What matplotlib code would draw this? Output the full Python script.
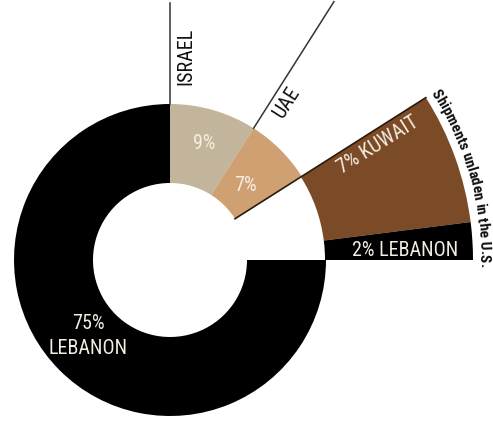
import numpy as np
import matplotlib

matplotlib.use("Agg")
import matplotlib.pyplot as plt  # noqa: E402
from matplotlib.font_manager import FontProperties  # noqa: E402

# shares of shipments, clockwise from 12 o'clock
names = ["Israel", "UAE", "Kuwait", "Lebanon (unladen)", "Lebanon"]
values = [9, 7, 7, 2, 75]
colors = ["#c3b49c", "#cfa072", "#7b4b27", "#000000", "#000000"]
unladen = [False, False, True, True, False]
note = "Shipments unladen in the U.S."

W, H = 493, 421
CX, CY = 170, 161          # centre, y measured from the bottom
R_IN, R_MID, R_OUT = 77, 156, 303

plt.rcParams["font.family"] = ["Roboto Condensed", "Open Sans Condensed",
                               "DejaVu Sans Condensed", "Roboto"]

fig = plt.figure(figsize=(W / 100, H / 100), dpi=100)
ax = fig.add_axes([0, 0, 1, 1])

# inner ring: the three destinations where goods were unloaded
inner_cols = [c if not u else "none" for c, u in zip(colors, unladen)]
ax.pie(values, colors=inner_cols, startangle=90, counterclock=False,
       radius=R_MID, center=(CX, CY),
       wedgeprops=dict(width=R_MID - R_IN, linewidth=0))
# outer ring: shipments unladen in the U.S.
outer_cols = [c if u else "none" for c, u in zip(colors, unladen)]
ax.pie(values, colors=outer_cols, startangle=90, counterclock=False,
       radius=R_OUT, center=(CX, CY),
       wedgeprops=dict(width=R_OUT - R_MID + 1, linewidth=0))

ax.set_xlim(0, W)
ax.set_ylim(0, H)
ax.set_aspect("equal")
ax.axis("off")

# boundary angles (degrees, counter-clockwise from east)
edges = 90 - 360 * np.cumsum([0] + values) / sum(values)


def polar(r, a):
    t = np.radians(a)
    return CX + r * np.cos(t), CY + r * np.sin(t)


# leader lines for ISRAEL / UAE and the UAE-Kuwait divider
x0, y0 = polar(R_MID, edges[0])
ax.plot([x0, x0], [y0, H - 3], color="#333333", lw=1.1)
x0, y0 = polar(R_MID, edges[1])
x1, y1 = polar(306, edges[1])
ax.plot([x0, x1], [y0, y1], color="#333333", lw=1.1)
x0, y0 = polar(R_IN, edges[2])
x1, y1 = polar(R_OUT, edges[2])
ax.plot([x0, x1], [y0, y1], color="#2a1a0c", lw=1.2)

txt = dict(color="#f4eee2", fontsize=14.5, ha="center", va="center")
mid = (edges[:-1] + edges[1:]) / 2

ax.text(*polar(121, mid[0]), f"{values[0]}%", **txt)
ax.text(*polar(106, mid[1]), f"{values[1]}%", **txt)
ax.text(*polar(238, 29), f"{values[2]}% KUWAIT", rotation=32, **txt)
ax.text(CX + 235, CY + 10, f"{values[3]}% LEBANON", **txt)
ax.text(CX - 82, CY - 76, f"{values[4]}%\nLEBANON", linespacing=1.4, **txt)

ax.text(186, H - 56, "ISRAEL", rotation=90, fontsize=14.5, color="#111111",
        ha="center", va="center")
ax.text(287, H - 102, "UAE", rotation=57.6, fontsize=14.5, color="#111111",
        ha="center", va="center")

# note set along the outer arc of the unladen wedges
prop = FontProperties(size=11, weight="bold")
rend = fig.canvas.get_renderer()


def width(s):
    return rend.get_text_width_height_descent(s, prop, ismath=False)[0]


r_base = 310
arc_mid = (edges[2] + edges[4]) / 2 - 0.5
total = width(note)
a0 = arc_mid + np.degrees(total / 2 / r_base)
for i, ch in enumerate(note):
    s = (width(note[:i]) + width(note[:i + 1])) / 2
    a = a0 - np.degrees(s / r_base)
    ax.text(*polar(r_base, a), ch, fontproperties=prop, color="#111111",
            rotation=a - 90, rotation_mode="anchor",
            ha="center", va="baseline")

fig.savefig("out.png", dpi=100)
